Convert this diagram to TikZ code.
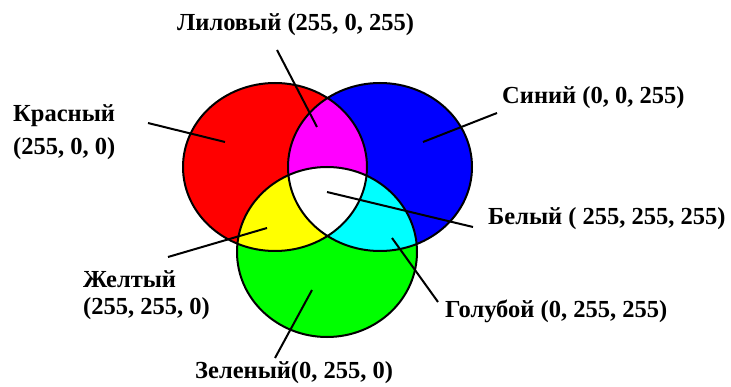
\documentclass[tikz,border=0pt]{standalone}
\usepackage{fontspec}
\setmainfont{Liberation Serif}
\usepackage{tikz}
\usetikzlibrary{positioning}
\definecolor{rgbred}{RGB}{255,0,0}
\definecolor{rgbgreen}{RGB}{0,255,0}
\definecolor{rgbblue}{RGB}{0,0,255}
\definecolor{rgbyellow}{RGB}{255,255,0}
\definecolor{rgbmagenta}{RGB}{255,0,255}
\definecolor{rgbcyan}{RGB}{0,255,255}

\begin{document}
\begin{tikzpicture}[
    x=1pt, y=-1pt,
    lbl/.style={font=\bfseries\fontsize{24.5}{27}\selectfont, inner sep=0pt,
                anchor=west, align=left},
    ray/.style={line width=2pt},
    rim/.style={line width=2pt},
]
    \useasboundingbox (0,0) rectangle (731,387);

    \coordinate (cred) at (275,167);
    \coordinate (cblue) at (380,167);
    \coordinate (cgreen) at (327,252);

    \fill[rgbred] (cred) ellipse [x radius=92, y radius=84];
    \fill[rgbblue] (cblue) ellipse [x radius=92, y radius=84];
    \fill[rgbgreen] (cgreen) ellipse [x radius=90, y radius=85];
    \begin{scope}
        \clip (cblue) ellipse [x radius=92, y radius=84];
        \fill[rgbcyan] (cgreen) ellipse [x radius=90, y radius=85];
    \end{scope}
    \begin{scope}
        \clip (cred) ellipse [x radius=92, y radius=84];
        \fill[rgbmagenta] (cblue) ellipse [x radius=92, y radius=84];
        \fill[rgbyellow] (cgreen) ellipse [x radius=90, y radius=85];
        \clip (cblue) ellipse [x radius=92, y radius=84];
        \fill[white] (cgreen) ellipse [x radius=90, y radius=85];
    \end{scope}
    \draw[rim] (cred) ellipse [x radius=92, y radius=84];
    \draw[rim] (cblue) ellipse [x radius=92, y radius=84];
    \draw[rim] (cgreen) ellipse [x radius=90, y radius=85];

    \node[lbl] (lilac) at (177,25) {Лиловый (255, 0, 255)};
    \node[lbl] (redtxt) at (13,132) {Красный\\[6pt](255, 0, 0)};
    \node[lbl] (bluetxt) at (502,98) {Синий (0, 0, 255)};
    \node[lbl] (whitetxt) at (488,219) {Белый ( 255, 255, 255)};
    \node[lbl] (yellowtxt) at (83,295) {Желтый\\(255, 255, 0)};
    \node[lbl] (cyantxt) at (445,311) {Голубой (0, 255, 255)};
    \node[lbl] (greentxt) at (195,373) {Зеленый(0, 255, 0)};

    \coordinate (lilac-a) at (277,50);   \coordinate (lilac-b) at (317,127);
    \coordinate (red-a) at (148,123);    \coordinate (red-b) at (225,142);
    \coordinate (blue-a) at (497,113);   \coordinate (blue-b) at (423,142);
    \coordinate (white-a) at (473,227);  \coordinate (white-b) at (327,192);
    \coordinate (yellow-a) at (168,257); \coordinate (yellow-b) at (267,228);
    \coordinate (cyan-a) at (438,302);   \coordinate (cyan-b) at (392,238);
    \coordinate (green-a) at (275,358);  \coordinate (green-b) at (312,290);

    \draw[ray] (lilac-a) -- (lilac-b);
    \draw[ray] (red-a) -- (red-b);
    \draw[ray] (blue-a) -- (blue-b);
    \draw[ray] (white-a) -- (white-b);
    \draw[ray] (yellow-a) -- (yellow-b);
    \draw[ray] (cyan-a) -- (cyan-b);
    \draw[ray] (green-a) -- (green-b);
\end{tikzpicture}
\end{document}
